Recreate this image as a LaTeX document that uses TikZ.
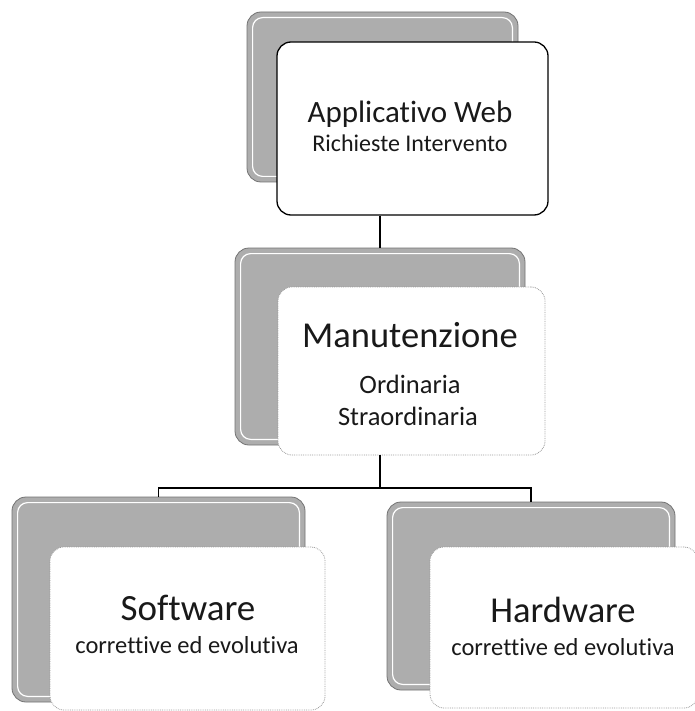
\documentclass[tikz,border=0pt]{standalone}
\usepackage{fontspec}
\setmainfont{Carlito}[Ligatures=NoCommon]
\usetikzlibrary{calc}
\begin{document}
\begin{tikzpicture}[x=1pt,y=-1pt,
  backbox/.style={draw=black!55, fill=black!32, rounded corners=14pt, line width=0.8pt, inner sep=0pt},
  innerline/.style={draw=white, line width=1.2pt, rounded corners=10pt},
  frontbox/.style={draw=black!40, densely dotted, fill=white, rounded corners=14pt, line width=0.8pt, inner sep=0pt},
  topbox/.style={draw=black, fill=white, rounded corners=14pt, line width=1.3pt, inner sep=0pt},
  conn/.style={draw=black, line width=1.2pt},
  txt/.style={anchor=base, inner sep=0pt, text=black!90}]
\useasboundingbox (0,0) rectangle (694,711);
\fill[white] (0,0) rectangle (694,711);

% top
\node[backbox, minimum width=271pt, minimum height=170pt] (tb) at (382.5,97) {};
\draw[innerline] ($(tb.north west)+(6,6)$) rectangle ($(tb.south east)+(-6,-6)$);
\node[topbox, minimum width=271pt, minimum height=173pt] (tf) at (412.5,128.5) {};

% manutenzione
\node[backbox, minimum width=290pt, minimum height=197pt] (mb) at (380,346.5) {};
\draw[innerline] ($(mb.north west)+(6,6)$) rectangle ($(mb.south east)+(-6,-6)$);
\node[frontbox, minimum width=267pt, minimum height=168pt] (mf) at (411.5,371) {};

% software
\node[backbox, minimum width=293pt, minimum height=205pt] (sb) at (158.5,599.5) {};
\draw[innerline] ($(sb.north west)+(6,6)$) rectangle ($(sb.south east)+(-6,-6)$);
\node[frontbox, minimum width=275pt, minimum height=163pt] (sf) at (187.5,628.5) {};

% hardware
\node[backbox, minimum width=288pt, minimum height=188pt] (hb) at (531,596) {};
\draw[innerline] ($(hb.north west)+(6,6)$) rectangle ($(hb.south east)+(-6,-6)$);
\node[frontbox, minimum width=268pt, minimum height=161pt] (hf) at (564,627.5) {};

% connectors
\coordinate (bus) at (380,488);
\draw[conn] (mb.north |- tf.south) -- (mb.north);
\draw[conn] (mb.south |- mf.south) -- (mb.south |- bus);
\draw[conn] (sb.north) -- (sb.north |- bus) -- (hb.north |- bus) -- (hb.north);

% texts
\node[txt, font=\fontsize{31}{37}\selectfont] (t1) at (410,123) {Applicativo Web};
\node[txt, font=\fontsize{24}{29}\selectfont] (t2) at (410,152) {Richieste Intervento};
\node[txt, font=\fontsize{36.5}{44}\selectfont] (m1) at (410,347) {Manutenzione};
\node[txt, font=\fontsize{26.5}{32}\selectfont] (m2) at (410,393) {Ordinaria};
\node[txt, font=\fontsize{26.5}{32}\selectfont] (m3) at (408,425) {Straordinaria};
\node[txt, font=\fontsize{37}{44}\selectfont] (s1) at (188,620) {Software};
\node[txt, font=\fontsize{24.5}{29}\selectfont] (s2) at (187,653) {correttive ed evolutiva};
\node[txt, font=\fontsize{36.5}{44}\selectfont] (h1) at (563,622) {Hardware};
\node[txt, font=\fontsize{24.5}{29}\selectfont] (h2) at (563,655) {correttive ed evolutiva};
\end{tikzpicture}
\end{document}
